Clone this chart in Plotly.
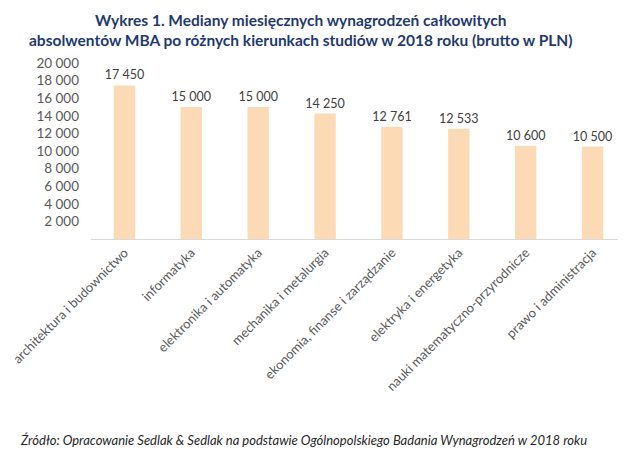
import plotly.graph_objects as go

categories = ["architektura i budownictwo", "informatyka", "elektronika i automatyka",
              "mechanika i metalurgia", "ekonomia, finanse i zarządzanie",
              "elektryka i energetyka", "nauki matematyczno-przyrodnicze",
              "prawo i administracja"]
values = [17450, 15000, 15000, 14250, 12761, 12533, 10600, 10500]
value_labels = ["17 450", "15 000", "15 000", "14 250", "12 761", "12 533", "10 600", "10 500"]
tick_vals = [2000, 4000, 6000, 8000, 10000, 12000, 14000, 16000, 18000, 20000]
tick_text = ["2 000", "4 000", "6 000", "8 000", "10 000", "12 000", "14 000", "16 000", "18 000", "20 000"]

title = ("Wykres 1. Mediany miesięcznych wynagrodzeń całkowitych<br>"
         "absolwentów MBA po różnych kierunkach studiów w 2018 roku (brutto w PLN)")
source = "Źródło: Opracowanie Sedlak & Sedlak na podstawie Ogólnopolskiego Badania Wynagrodzeń w 2018 roku"

FONT = "Lato"
# page body has an 8px default margin, so figure coords = window coords - 8
W, H = 618, 451
L, R, T, B = 83, 0, 54.5, 220

fig = go.Figure(go.Bar(
    x=categories, y=values, text=value_labels, textposition="outside",
    constraintext="none",
    textfont=dict(family=FONT, size=12.5, color="#404040"),
    marker=dict(color="#FDDAB6", line=dict(width=0)),
    width=0.32, cliponaxis=False, hoverinfo="skip",
))

plot_w = W - L - R
plot_h = H - T - B
def px_to_paper(xp, yp):
    return (xp - L) / plot_w, (H - B - yp) / plot_h
tx, ty = px_to_paper(293, 21.5)
sx, sy = px_to_paper(10, 433)

fig.update_layout(
    width=W, height=H,
    margin=dict(l=L, r=R, t=T, b=B, autoexpand=False),
    paper_bgcolor="white", plot_bgcolor="white",
    showlegend=False,
    font=dict(family=FONT, color="#595959"),
    xaxis=dict(tickangle=-45, showline=True, linecolor="#D9D9D9", linewidth=1,
               ticks="", showgrid=False, automargin=False,
               tickfont=dict(size=13, color="#595959")),
    yaxis=dict(range=[0, 20000], tickvals=tick_vals, ticktext=tick_text,
               showgrid=False, zeroline=False, showline=False, ticks="",
               automargin=False, ticklabelstandoff=11,
               tickfont=dict(size=13.5, color="#595959")),
    annotations=[
        dict(text="<b>" + title + "</b>", x=tx, xref="paper", y=ty, yref="paper",
             showarrow=False, align="center", xanchor="center", yanchor="middle",
             font=dict(family=FONT, size=15.5, color="#1F3A6E")),
        dict(text="<i>" + source + "</i>", x=sx, xref="paper", y=sy, yref="paper",
             showarrow=False, xanchor="left", yanchor="middle",
             font=dict(family=FONT, size=13, color="#262626")),
    ],
)

fig.write_html("out.html")
